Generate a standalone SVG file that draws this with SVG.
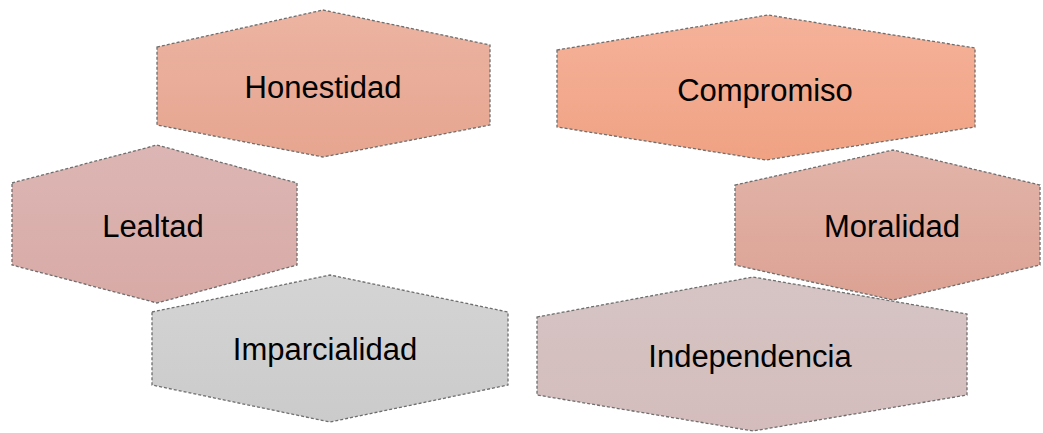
<svg xmlns="http://www.w3.org/2000/svg" width="1043" height="433" viewBox="0 0 1043 433">
<style>
.hex{stroke:#6e6e6e;stroke-width:1.3;stroke-dasharray:3 2}
.lbl{font-family:"Liberation Sans",Arial,sans-serif;font-size:31px;fill:#000;text-anchor:middle}
</style>
<defs>
<linearGradient id="gH" x1="0" y1="0" x2="0" y2="1"><stop offset="0" stop-color="#ecb4a2"/><stop offset="1" stop-color="#e6a58f"/></linearGradient>
<linearGradient id="gC" x1="0" y1="0" x2="0" y2="1"><stop offset="0" stop-color="#f5b29a"/><stop offset="1" stop-color="#f0a283"/></linearGradient>
<linearGradient id="gL" x1="0" y1="0" x2="0" y2="1"><stop offset="0" stop-color="#dcb6b4"/><stop offset="1" stop-color="#d8aaa6"/></linearGradient>
<linearGradient id="gM" x1="0" y1="0" x2="0" y2="1"><stop offset="0" stop-color="#e2b4aa"/><stop offset="1" stop-color="#dca293"/></linearGradient>
<linearGradient id="gI" x1="0" y1="0" x2="0" y2="1"><stop offset="0" stop-color="#d4d4d4"/><stop offset="1" stop-color="#cbcbcb"/></linearGradient>
<linearGradient id="gD" x1="0" y1="0" x2="0" y2="1"><stop offset="0" stop-color="#d6c4c4"/><stop offset="1" stop-color="#d4bcbc"/></linearGradient>
</defs>
<g id="imparcialidad">
<polygon class="hex" fill="url(#gI)" points="152,312 330,275 508,312 508,385 330,422 152,385"/>
<text class="lbl" x="325" y="360">Imparcialidad</text>
</g>
<g id="lealtad">
<polygon class="hex" fill="url(#gL)" points="12,183 157,145 297,183 297,265 157,303 12,265"/>
<text class="lbl" x="153" y="237">Lealtad</text>
</g>
<g id="honestidad">
<polygon class="hex" fill="url(#gH)" points="157,47 323,10 490,45 490,125 323,157 157,125"/>
<text class="lbl" x="323" y="98">Honestidad</text>
</g>
<g id="independencia">
<polygon class="hex" fill="url(#gD)" points="537,317 753,277 967,314 967,395 753,431 537,395"/>
<text class="lbl" x="750" y="367">Independencia</text>
</g>
<g id="moralidad">
<polygon class="hex" fill="url(#gM)" points="735,185 893,150 1040,185 1040,265 893,300 735,265"/>
<text class="lbl" x="892" y="237">Moralidad</text>
</g>
<g id="compromiso">
<polygon class="hex" fill="url(#gC)" points="557,50 768,15 975,48 975,127 766,160 557,127"/>
<text class="lbl" x="765" y="101">Compromiso</text>
</g>
<g id="connectors"></g>
</svg>
